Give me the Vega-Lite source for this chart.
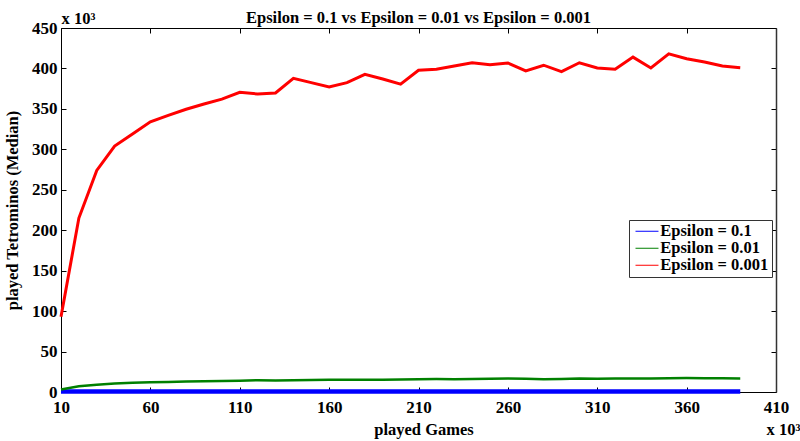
{
  "$schema": "https://vega.github.io/schema/vega-lite/v6.json",
  "width": 715,
  "height": 364,
  "autosize": "none",
  "padding": {"left": 61, "top": 28, "right": 24, "bottom": 49},
  "background": "white",
  "config": {
    "font": "Liberation Serif",
    "view": {"stroke": null},
    "axis": {
      "domainColor": "black",
      "tickColor": "black",
      "labelColor": "black",
      "titleColor": "black",
      "labelFont": "Liberation Serif",
      "titleFont": "Liberation Serif",
      "labelFontWeight": "bold",
      "titleFontWeight": "bold",
      "labelFontSize": 17,
      "titleFontSize": 16.5,
      "grid": false,
      "labelOverlap": false,
      "labelFlush": false,
      "tickSize": -5
    }
  },
  "title": {
    "text": "Epsilon = 0.1 vs Epsilon = 0.01 vs Epsilon = 0.001",
    "font": "Liberation Serif",
    "fontSize": 16.5,
    "fontWeight": "bold",
    "color": "black",
    "anchor": "middle",
    "baseline": "alphabetic",
    "offset": 7,
    "dy": 35.5
  },
  "data": {
    "values": [
      {"games": 10, "tetrominos": 0.5, "series": "Epsilon = 0.1"},
      {"games": 20, "tetrominos": 0.5, "series": "Epsilon = 0.1"},
      {"games": 30, "tetrominos": 0.5, "series": "Epsilon = 0.1"},
      {"games": 40, "tetrominos": 0.5, "series": "Epsilon = 0.1"},
      {"games": 50, "tetrominos": 0.5, "series": "Epsilon = 0.1"},
      {"games": 60, "tetrominos": 0.5, "series": "Epsilon = 0.1"},
      {"games": 70, "tetrominos": 0.5, "series": "Epsilon = 0.1"},
      {"games": 80, "tetrominos": 0.5, "series": "Epsilon = 0.1"},
      {"games": 90, "tetrominos": 0.5, "series": "Epsilon = 0.1"},
      {"games": 100, "tetrominos": 0.5, "series": "Epsilon = 0.1"},
      {"games": 110, "tetrominos": 0.5, "series": "Epsilon = 0.1"},
      {"games": 120, "tetrominos": 0.5, "series": "Epsilon = 0.1"},
      {"games": 130, "tetrominos": 0.5, "series": "Epsilon = 0.1"},
      {"games": 140, "tetrominos": 0.5, "series": "Epsilon = 0.1"},
      {"games": 150, "tetrominos": 0.5, "series": "Epsilon = 0.1"},
      {"games": 160, "tetrominos": 0.5, "series": "Epsilon = 0.1"},
      {"games": 170, "tetrominos": 0.5, "series": "Epsilon = 0.1"},
      {"games": 180, "tetrominos": 0.5, "series": "Epsilon = 0.1"},
      {"games": 190, "tetrominos": 0.5, "series": "Epsilon = 0.1"},
      {"games": 200, "tetrominos": 0.5, "series": "Epsilon = 0.1"},
      {"games": 210, "tetrominos": 0.5, "series": "Epsilon = 0.1"},
      {"games": 220, "tetrominos": 0.5, "series": "Epsilon = 0.1"},
      {"games": 230, "tetrominos": 0.5, "series": "Epsilon = 0.1"},
      {"games": 240, "tetrominos": 0.5, "series": "Epsilon = 0.1"},
      {"games": 250, "tetrominos": 0.5, "series": "Epsilon = 0.1"},
      {"games": 260, "tetrominos": 0.5, "series": "Epsilon = 0.1"},
      {"games": 270, "tetrominos": 0.5, "series": "Epsilon = 0.1"},
      {"games": 280, "tetrominos": 0.5, "series": "Epsilon = 0.1"},
      {"games": 290, "tetrominos": 0.5, "series": "Epsilon = 0.1"},
      {"games": 300, "tetrominos": 0.5, "series": "Epsilon = 0.1"},
      {"games": 310, "tetrominos": 0.5, "series": "Epsilon = 0.1"},
      {"games": 320, "tetrominos": 0.5, "series": "Epsilon = 0.1"},
      {"games": 330, "tetrominos": 0.5, "series": "Epsilon = 0.1"},
      {"games": 340, "tetrominos": 0.5, "series": "Epsilon = 0.1"},
      {"games": 350, "tetrominos": 0.5, "series": "Epsilon = 0.1"},
      {"games": 360, "tetrominos": 0.5, "series": "Epsilon = 0.1"},
      {"games": 370, "tetrominos": 0.5, "series": "Epsilon = 0.1"},
      {"games": 380, "tetrominos": 0.5, "series": "Epsilon = 0.1"},
      {"games": 390, "tetrominos": 0.5, "series": "Epsilon = 0.1"},
      {"games": 10, "tetrominos": 3, "series": "Epsilon = 0.01"},
      {"games": 20, "tetrominos": 7, "series": "Epsilon = 0.01"},
      {"games": 30, "tetrominos": 9, "series": "Epsilon = 0.01"},
      {"games": 40, "tetrominos": 10.5, "series": "Epsilon = 0.01"},
      {"games": 50, "tetrominos": 11.5, "series": "Epsilon = 0.01"},
      {"games": 60, "tetrominos": 12, "series": "Epsilon = 0.01"},
      {"games": 70, "tetrominos": 12.5, "series": "Epsilon = 0.01"},
      {"games": 80, "tetrominos": 13, "series": "Epsilon = 0.01"},
      {"games": 90, "tetrominos": 13.3, "series": "Epsilon = 0.01"},
      {"games": 100, "tetrominos": 13.6, "series": "Epsilon = 0.01"},
      {"games": 110, "tetrominos": 14, "series": "Epsilon = 0.01"},
      {"games": 120, "tetrominos": 14.5, "series": "Epsilon = 0.01"},
      {"games": 130, "tetrominos": 14.3, "series": "Epsilon = 0.01"},
      {"games": 140, "tetrominos": 14.5, "series": "Epsilon = 0.01"},
      {"games": 150, "tetrominos": 14.8, "series": "Epsilon = 0.01"},
      {"games": 160, "tetrominos": 15, "series": "Epsilon = 0.01"},
      {"games": 170, "tetrominos": 15.2, "series": "Epsilon = 0.01"},
      {"games": 180, "tetrominos": 15, "series": "Epsilon = 0.01"},
      {"games": 190, "tetrominos": 15.2, "series": "Epsilon = 0.01"},
      {"games": 200, "tetrominos": 15.3, "series": "Epsilon = 0.01"},
      {"games": 210, "tetrominos": 15.8, "series": "Epsilon = 0.01"},
      {"games": 220, "tetrominos": 16, "series": "Epsilon = 0.01"},
      {"games": 230, "tetrominos": 15.9, "series": "Epsilon = 0.01"},
      {"games": 240, "tetrominos": 16, "series": "Epsilon = 0.01"},
      {"games": 250, "tetrominos": 16.3, "series": "Epsilon = 0.01"},
      {"games": 260, "tetrominos": 16.6, "series": "Epsilon = 0.01"},
      {"games": 270, "tetrominos": 16.5, "series": "Epsilon = 0.01"},
      {"games": 280, "tetrominos": 15.8, "series": "Epsilon = 0.01"},
      {"games": 290, "tetrominos": 16, "series": "Epsilon = 0.01"},
      {"games": 300, "tetrominos": 16.6, "series": "Epsilon = 0.01"},
      {"games": 310, "tetrominos": 16.5, "series": "Epsilon = 0.01"},
      {"games": 320, "tetrominos": 16.6, "series": "Epsilon = 0.01"},
      {"games": 330, "tetrominos": 16.7, "series": "Epsilon = 0.01"},
      {"games": 340, "tetrominos": 16.8, "series": "Epsilon = 0.01"},
      {"games": 350, "tetrominos": 17, "series": "Epsilon = 0.01"},
      {"games": 360, "tetrominos": 17.2, "series": "Epsilon = 0.01"},
      {"games": 370, "tetrominos": 17, "series": "Epsilon = 0.01"},
      {"games": 380, "tetrominos": 16.9, "series": "Epsilon = 0.01"},
      {"games": 390, "tetrominos": 16.8, "series": "Epsilon = 0.01"},
      {"games": 10, "tetrominos": 93, "series": "Epsilon = 0.001"},
      {"games": 20, "tetrominos": 215, "series": "Epsilon = 0.001"},
      {"games": 30, "tetrominos": 274, "series": "Epsilon = 0.001"},
      {"games": 40, "tetrominos": 304, "series": "Epsilon = 0.001"},
      {"games": 50, "tetrominos": 319, "series": "Epsilon = 0.001"},
      {"games": 60, "tetrominos": 334, "series": "Epsilon = 0.001"},
      {"games": 70, "tetrominos": 342, "series": "Epsilon = 0.001"},
      {"games": 80, "tetrominos": 349.5, "series": "Epsilon = 0.001"},
      {"games": 90, "tetrominos": 356, "series": "Epsilon = 0.001"},
      {"games": 100, "tetrominos": 362, "series": "Epsilon = 0.001"},
      {"games": 110, "tetrominos": 370.5, "series": "Epsilon = 0.001"},
      {"games": 120, "tetrominos": 368.4, "series": "Epsilon = 0.001"},
      {"games": 130, "tetrominos": 369.7, "series": "Epsilon = 0.001"},
      {"games": 140, "tetrominos": 387.8, "series": "Epsilon = 0.001"},
      {"games": 150, "tetrominos": 382.5, "series": "Epsilon = 0.001"},
      {"games": 160, "tetrominos": 377, "series": "Epsilon = 0.001"},
      {"games": 170, "tetrominos": 382.5, "series": "Epsilon = 0.001"},
      {"games": 180, "tetrominos": 392.8, "series": "Epsilon = 0.001"},
      {"games": 190, "tetrominos": 387, "series": "Epsilon = 0.001"},
      {"games": 200, "tetrominos": 380.5, "series": "Epsilon = 0.001"},
      {"games": 210, "tetrominos": 397.8, "series": "Epsilon = 0.001"},
      {"games": 220, "tetrominos": 399, "series": "Epsilon = 0.001"},
      {"games": 230, "tetrominos": 403, "series": "Epsilon = 0.001"},
      {"games": 240, "tetrominos": 407, "series": "Epsilon = 0.001"},
      {"games": 250, "tetrominos": 404.6, "series": "Epsilon = 0.001"},
      {"games": 260, "tetrominos": 406.8, "series": "Epsilon = 0.001"},
      {"games": 270, "tetrominos": 397, "series": "Epsilon = 0.001"},
      {"games": 280, "tetrominos": 404, "series": "Epsilon = 0.001"},
      {"games": 290, "tetrominos": 396, "series": "Epsilon = 0.001"},
      {"games": 300, "tetrominos": 407, "series": "Epsilon = 0.001"},
      {"games": 310, "tetrominos": 400.6, "series": "Epsilon = 0.001"},
      {"games": 320, "tetrominos": 399, "series": "Epsilon = 0.001"},
      {"games": 330, "tetrominos": 414, "series": "Epsilon = 0.001"},
      {"games": 340, "tetrominos": 400.6, "series": "Epsilon = 0.001"},
      {"games": 350, "tetrominos": 418, "series": "Epsilon = 0.001"},
      {"games": 360, "tetrominos": 412, "series": "Epsilon = 0.001"},
      {"games": 370, "tetrominos": 408, "series": "Epsilon = 0.001"},
      {"games": 380, "tetrominos": 403, "series": "Epsilon = 0.001"},
      {"games": 390, "tetrominos": 401, "series": "Epsilon = 0.001"}
    ]
  },
  "resolve": {"axis": {"x": "independent", "y": "independent"}},
  "encoding": {
    "color": {
      "field": "series",
      "type": "nominal",
      "sort": ["Epsilon = 0.1", "Epsilon = 0.01", "Epsilon = 0.001"],
      "scale": {
        "domain": ["Epsilon = 0.1", "Epsilon = 0.01", "Epsilon = 0.001"],
        "range": ["#0000ff", "#008000", "#ff0000"]
      },
      "legend": {
        "orient": "none",
        "legendX": 568,
        "legendY": 192,
        "title": null,
        "symbolType": "M-2,0H2",
        "symbolSize": 132,
        "symbolStrokeWidth": 1,
        "symbolOffset": 6.75,
        "labelFont": "Liberation Serif",
        "labelFontSize": 16.5,
        "labelFontWeight": "bold",
        "labelColor": "black",
        "labelOffset": 5,
        "strokeColor": "#333333",
        "fillColor": "white",
        "padding": 3,
        "rowPadding": -2
      }
    }
  },
  "layer": [
    {
      "transform": [{"filter": "datum.series === 'Epsilon = 0.1'"}],
      "mark": {"type": "line", "clip": false, "strokeWidth": 4.5},
      "encoding": {
        "x": {
          "field": "games",
          "type": "quantitative",
          "scale": {"domain": [10, 410], "nice": false, "zero": false},
          "axis": {
            "orient": "bottom",
            "values": [10, 60, 110, 160, 210, 260, 310, 360, 410],
            "title": "played Games",
            "titleX": 362.5,
            "titleY": 42,
            "titleAlign": "center",
            "titleBaseline": "alphabetic",
            "labelPadding": 12.5
          }
        },
        "y": {
          "field": "tetrominos",
          "type": "quantitative",
          "scale": {"domain": [0, 450], "nice": false},
          "axis": {
            "orient": "left",
            "values": [0, 50, 100, 150, 200, 250, 300, 350, 400, 450],
            "title": "played Tetrominos (Median)",
            "titleX": -44,
            "titleY": 182,
            "titleAngle": -90,
            "titleAlign": "center",
            "titleBaseline": "alphabetic",
            "labelPadding": 9
          }
        }
      }
    },
    {
      "transform": [{"filter": "datum.series === 'Epsilon = 0.01'"}],
      "mark": {"type": "line", "clip": false, "strokeWidth": 2.5},
      "encoding": {
        "x": {"field": "games", "type": "quantitative", "axis": null},
        "y": {"field": "tetrominos", "type": "quantitative", "axis": null}
      }
    },
    {
      "transform": [{"filter": "datum.series === 'Epsilon = 0.001'"}],
      "mark": {"type": "line", "clip": false, "strokeWidth": 3},
      "encoding": {
        "x": {"field": "games", "type": "quantitative", "axis": null},
        "y": {"field": "tetrominos", "type": "quantitative", "axis": null}
      }
    },
    {
      "mark": {"type": "point", "opacity": 0},
      "encoding": {
        "color": {"value": "white"},
        "x": {
          "field": "games",
          "type": "quantitative",
          "axis": {
            "orient": "top",
            "values": [10, 60, 110, 160, 210, 260, 310, 360, 410],
            "labels": false,
            "title": "x 10³",
            "titleX": 0,
            "titleY": -4.5,
            "titleAngle": 0,
            "titleAlign": "left",
            "titleBaseline": "alphabetic"
          }
        },
        "y": {
          "field": "tetrominos",
          "type": "quantitative",
          "axis": {
            "orient": "right",
            "values": [0, 50, 100, 150, 200, 250, 300, 350, 400, 450],
            "labels": false,
            "domainWidth": 1.5,
            "domainColor": "#333333",
            "title": "x 10³",
            "titleX": -10,
            "titleY": 406.5,
            "titleAngle": 0,
            "titleAlign": "left",
            "titleBaseline": "alphabetic"
          }
        }
      }
    }
  ]
}
